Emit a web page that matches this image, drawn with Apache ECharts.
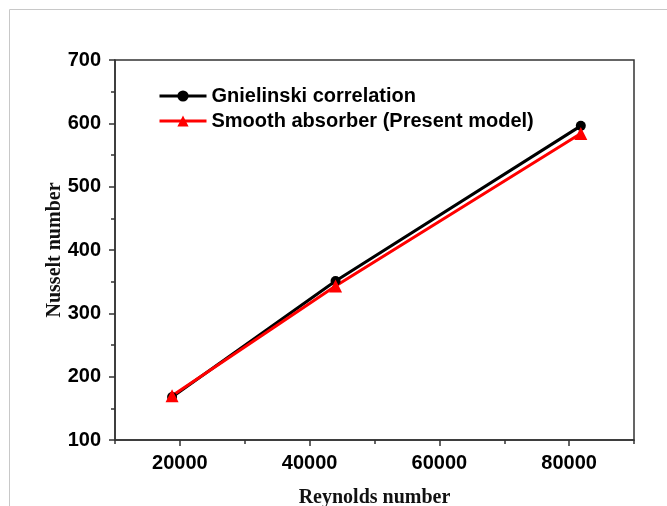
<!DOCTYPE html>
<html>
<head>
<meta charset="utf-8">
<script src="https://cdn.jsdelivr.net/npm/echarts@6/dist/echarts.min.js"></script>
<style>
html,body{margin:0;padding:0;background:#fff;}
#main{width:667px;height:506px;}
</style>
</head>
<body>
<div id="main"></div>
<script>
var reynolds = [18800, 44000, 81800];
var gnielinski = [168, 351, 596];
var smooth = [170, 343, 584];
var seriesNames = ['Gnielinski correlation', 'Smooth absorber (Present model)'];
var xMajorTicks = [20000, 40000, 60000, 80000];

function pairs(xs, ys) {
	return xs.map(function(x, i){ return [x, ys[i]]; });
}

var chart = echarts.init(document.getElementById('main'));
var axisColor = '#333';
var labelFont = {fontFamily: 'Liberation Sans, Arial', fontWeight: 'bold', fontSize: 20, color: '#000'};
var titleFont = {fontFamily: 'Liberation Serif, Times New Roman', fontWeight: 'bold', fontSize: 20, color: '#111'};
var option = {
	animation: false,
	graphic: [{
		type: 'rect',
		shape: {x: 9.5, y: 9.5, width: 700, height: 600},
		style: {fill: 'none', stroke: '#c8c8c8', lineWidth: 1},
		silent: true
	}],
	grid: {
		left: 115, right: 33, top: 60, bottom: 66,
		outerBoundsMode: 'none', containLabel: false,
		show: true, borderColor: axisColor, borderWidth: 1.5
	},
	legend: {
		orient: 'vertical',
		left: 153, top: 81,
		itemWidth: 47, itemHeight: 14, itemGap: 5,
		lineStyle: {width: 3},
		textStyle: labelFont,
		data: seriesNames
	},
	xAxis: [{
		type: 'value', min: 10000, max: 90000,
		name: 'Reynolds number', nameLocation: 'middle', nameGap: 48,
		nameMoveOverlap: false,
		nameTextStyle: titleFont,
		axisLine: {show: true, lineStyle: {color: axisColor, width: 1.5}},
		axisTick: {show: true, inside: false, length: 6, customValues: xMajorTicks, lineStyle: {color: axisColor, width: 1.5}},
		axisLabel: Object.assign({
			margin: 13, customValues: xMajorTicks,
			formatter: function(v){ return String(v); }
		}, labelFont),
		splitLine: {show: false}
	}, {
		// short ticks halfway between the labelled ones
		type: 'value', min: 10000, max: 90000, interval: 20000, position: 'bottom',
		axisLine: {show: false},
		axisTick: {show: true, inside: false, length: 4, lineStyle: {color: axisColor, width: 1.5}},
		axisLabel: {show: false},
		splitLine: {show: false}
	}],
	yAxis: {
		type: 'value', min: 100, max: 700, interval: 100,
		name: 'Nusselt number', nameLocation: 'middle', nameGap: 50,
		nameMoveOverlap: false,
		nameTextStyle: titleFont,
		axisLine: {show: true, lineStyle: {color: axisColor, width: 1.5}},
		axisTick: {show: true, inside: false, length: 6, lineStyle: {color: axisColor, width: 1.5}},
		minorTick: {show: true, splitNumber: 2, length: 4, lineStyle: {color: axisColor, width: 1.5}},
		axisLabel: Object.assign({margin: 14}, labelFont),
		splitLine: {show: false}
	},
	series: [{
		name: seriesNames[0], type: 'line',
		data: pairs(reynolds, gnielinski),
		symbol: 'circle', symbolSize: 10,
		lineStyle: {color: '#000', width: 3},
		itemStyle: {color: '#000'}
	}, {
		name: seriesNames[1], type: 'line',
		data: pairs(reynolds, smooth),
		symbol: 'triangle', symbolSize: 13,
		lineStyle: {color: '#ff0000', width: 3},
		itemStyle: {color: '#ff0000'}
	}]
};
chart.setOption(option);
</script>
</body>
</html>
